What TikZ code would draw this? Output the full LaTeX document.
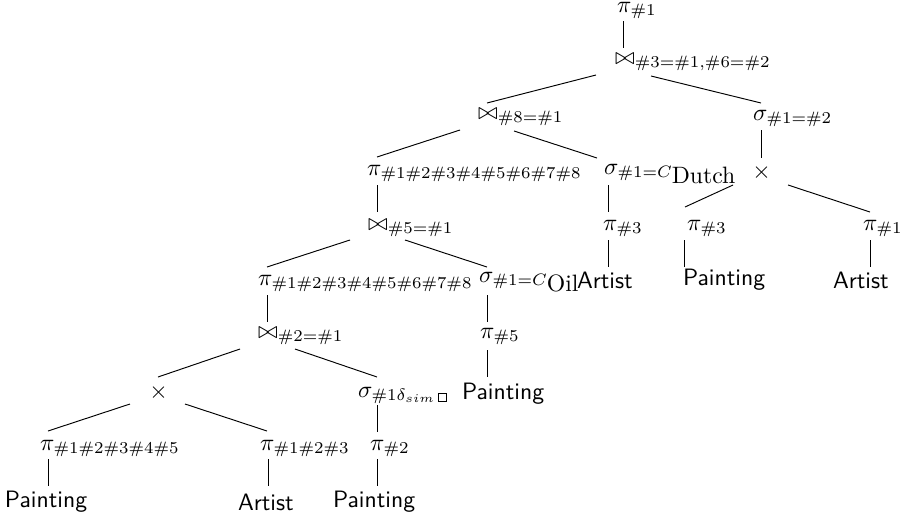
\documentclass[tikz,border=0pt]{standalone}
\usepackage{amssymb}
\newcommand{\tinybox}{\mbox{\fboxsep=0pt\fboxrule=0.4pt\fbox{\rule{0pt}{2.8pt}\rule{2.8pt}{0pt}}}}
\newcommand{\bigsub}[1]{\raisebox{-2.5pt}{\rmfamily #1}}
\begin{document}
\begin{tikzpicture}[x=0.422pt,y=-0.422pt,
  lbl/.style={inner sep=0pt, outer sep=0pt, anchor=base west},
  ctr/.style={inner sep=0pt, outer sep=0pt, anchor=base},
  edge/.style={line width=0.4pt, black}]
\useasboundingbox (0,0) rectangle (912,520);
% nodes
\node[lbl] (r1) at (617,12) {$\pi_{\#1}$};
\node[lbl] (j1) at (615,64) {$\bowtie_{\#3=\#1,\#6=\#2}$};
\node[lbl] (j2) at (478,119) {$\bowtie_{\#8=\#1}$};
\node[lbl] (s1) at (753,120) {$\sigma_{\#1=\#2}$};
\node[lbl] (p1) at (367,175) {$\pi_{\#1\#2\#3\#4\#5\#6\#7\#8}$};
\node[lbl] (s2) at (604,174) {$\sigma_{\#1=C\bigsub{Dutch}}$};
\node[ctr] (x1) at (761.5,178.5) {$\times$};
\node[lbl] (j3) at (368,230) {$\bowtie_{\#5=\#1}$};
\node[lbl] (p2) at (603,230) {$\pi_{\#3}$};
\node[lbl] (p3) at (687,230) {$\pi_{\#3}$};
\node[lbl] (p4) at (863,230) {$\pi_{\#1}$};
\node[lbl] (a1) at (577,288) {\textsf{Artist}};
\node[lbl] (t1) at (683,285.5) {\textsf{Painting}};
\node[lbl] (a2) at (833,288) {\textsf{Artist}};
\node[lbl] (p5) at (258,285) {$\pi_{\#1\#2\#3\#4\#5\#6\#7\#8}$};
\node[lbl] (s3) at (479,282) {$\sigma_{\#1=C\bigsub{Oil}}$};
\node[lbl] (j4) at (258,338) {$\bowtie_{\#2=\#1}$};
\node[lbl] (p6) at (480,338) {$\pi_{\#5}$};
\node[ctr] (x2) at (158.5,398) {$\times$};
\node[lbl] (s4) at (358,397) {$\sigma_{\#1\delta_{sim}\,\tinybox}$};
\node[lbl] (t2) at (462,399) {\textsf{Painting}};
\node[lbl] (p7) at (40,450) {$\pi_{\#1\#2\#3\#4\#5}$};
\node[lbl] (p8) at (260,450) {$\pi_{\#1\#2\#3}$};
\node[lbl] (p9) at (370,450) {$\pi_{\#2}$};
\node[lbl] (t3) at (5,507) {\textsf{Painting}};
\node[lbl] (a3) at (238,510) {\textsf{Artist}};
\node[lbl] (t4) at (333,507) {\textsf{Painting}};
% connector ends
\coordinate (r1-b) at (623,21);   \coordinate (j1-t) at (623,48);
\coordinate (j1-l) at (596,75);   \coordinate (j2-t) at (487,103);
\coordinate (j1-r) at (651,76);   \coordinate (s1-t) at (761,103);
\coordinate (j2-l) at (460,130);  \coordinate (p1-t) at (377,157);
\coordinate (j2-r) at (514,131);  \coordinate (s2-t) at (597,158);
\coordinate (s1-b) at (761,130);  \coordinate (x1-t) at (761,158);
\coordinate (p1-b) at (377,185);  \coordinate (j3-t) at (377,212);
\coordinate (s2-b) at (608,185);  \coordinate (p2-t) at (608,212);
\coordinate (x1-l) at (733,185);  \coordinate (p3-t) at (685,207);
\coordinate (x1-r) at (788,185);  \coordinate (p4-t) at (870,212);
\coordinate (j3-l) at (350,240);  \coordinate (p5-t) at (267,267);
\coordinate (j3-r) at (405,240);  \coordinate (s3-t) at (487,267);
\coordinate (p5-b) at (267,295);  \coordinate (j4-t) at (267,322);
\coordinate (s3-b) at (487,295);  \coordinate (p6-t) at (487,322);
\coordinate (j4-l) at (240,349);  \coordinate (x2-t) at (158,377);
\coordinate (j4-r) at (295,349);  \coordinate (s4-t) at (377,377);
\coordinate (p6-b) at (487,350);  \coordinate (t2-t) at (487,377);
\coordinate (x2-l) at (130,404);  \coordinate (p7-t) at (48,431);
\coordinate (x2-r) at (185,404);  \coordinate (p8-t) at (267,431);
\coordinate (s4-b) at (377,405);  \coordinate (p9-t) at (377,432);
\coordinate (p7-b) at (48,459);   \coordinate (t3-t) at (48,486);
\coordinate (p8-b) at (268,459);  \coordinate (a3-t) at (268,486);
\coordinate (p9-b) at (377,459);  \coordinate (t4-t) at (377,486);
\coordinate (p2-b) at (608,240);  \coordinate (a1-t) at (608,267);
\coordinate (p3-b) at (684,240);  \coordinate (t1-t) at (684,267);
\coordinate (p4-b) at (870,240);  \coordinate (a2-t) at (870,267);
% connectors
\draw[edge] (r1-b) -- (j1-t);
\draw[edge] (j1-l) -- (j2-t);
\draw[edge] (j1-r) -- (s1-t);
\draw[edge] (j2-l) -- (p1-t);
\draw[edge] (j2-r) -- (s2-t);
\draw[edge] (s1-b) -- (x1-t);
\draw[edge] (p1-b) -- (j3-t);
\draw[edge] (s2-b) -- (p2-t);
\draw[edge] (x1-l) -- (p3-t);
\draw[edge] (x1-r) -- (p4-t);
\draw[edge] (j3-l) -- (p5-t);
\draw[edge] (j3-r) -- (s3-t);
\draw[edge] (p5-b) -- (j4-t);
\draw[edge] (s3-b) -- (p6-t);
\draw[edge] (j4-l) -- (x2-t);
\draw[edge] (j4-r) -- (s4-t);
\draw[edge] (p6-b) -- (t2-t);
\draw[edge] (x2-l) -- (p7-t);
\draw[edge] (x2-r) -- (p8-t);
\draw[edge] (s4-b) -- (p9-t);
\draw[edge] (p7-b) -- (t3-t);
\draw[edge] (p8-b) -- (a3-t);
\draw[edge] (p9-b) -- (t4-t);
\draw[edge] (p2-b) -- (a1-t);
\draw[edge] (p3-b) -- (t1-t);
\draw[edge] (p4-b) -- (a2-t);
\end{tikzpicture}
\end{document}
